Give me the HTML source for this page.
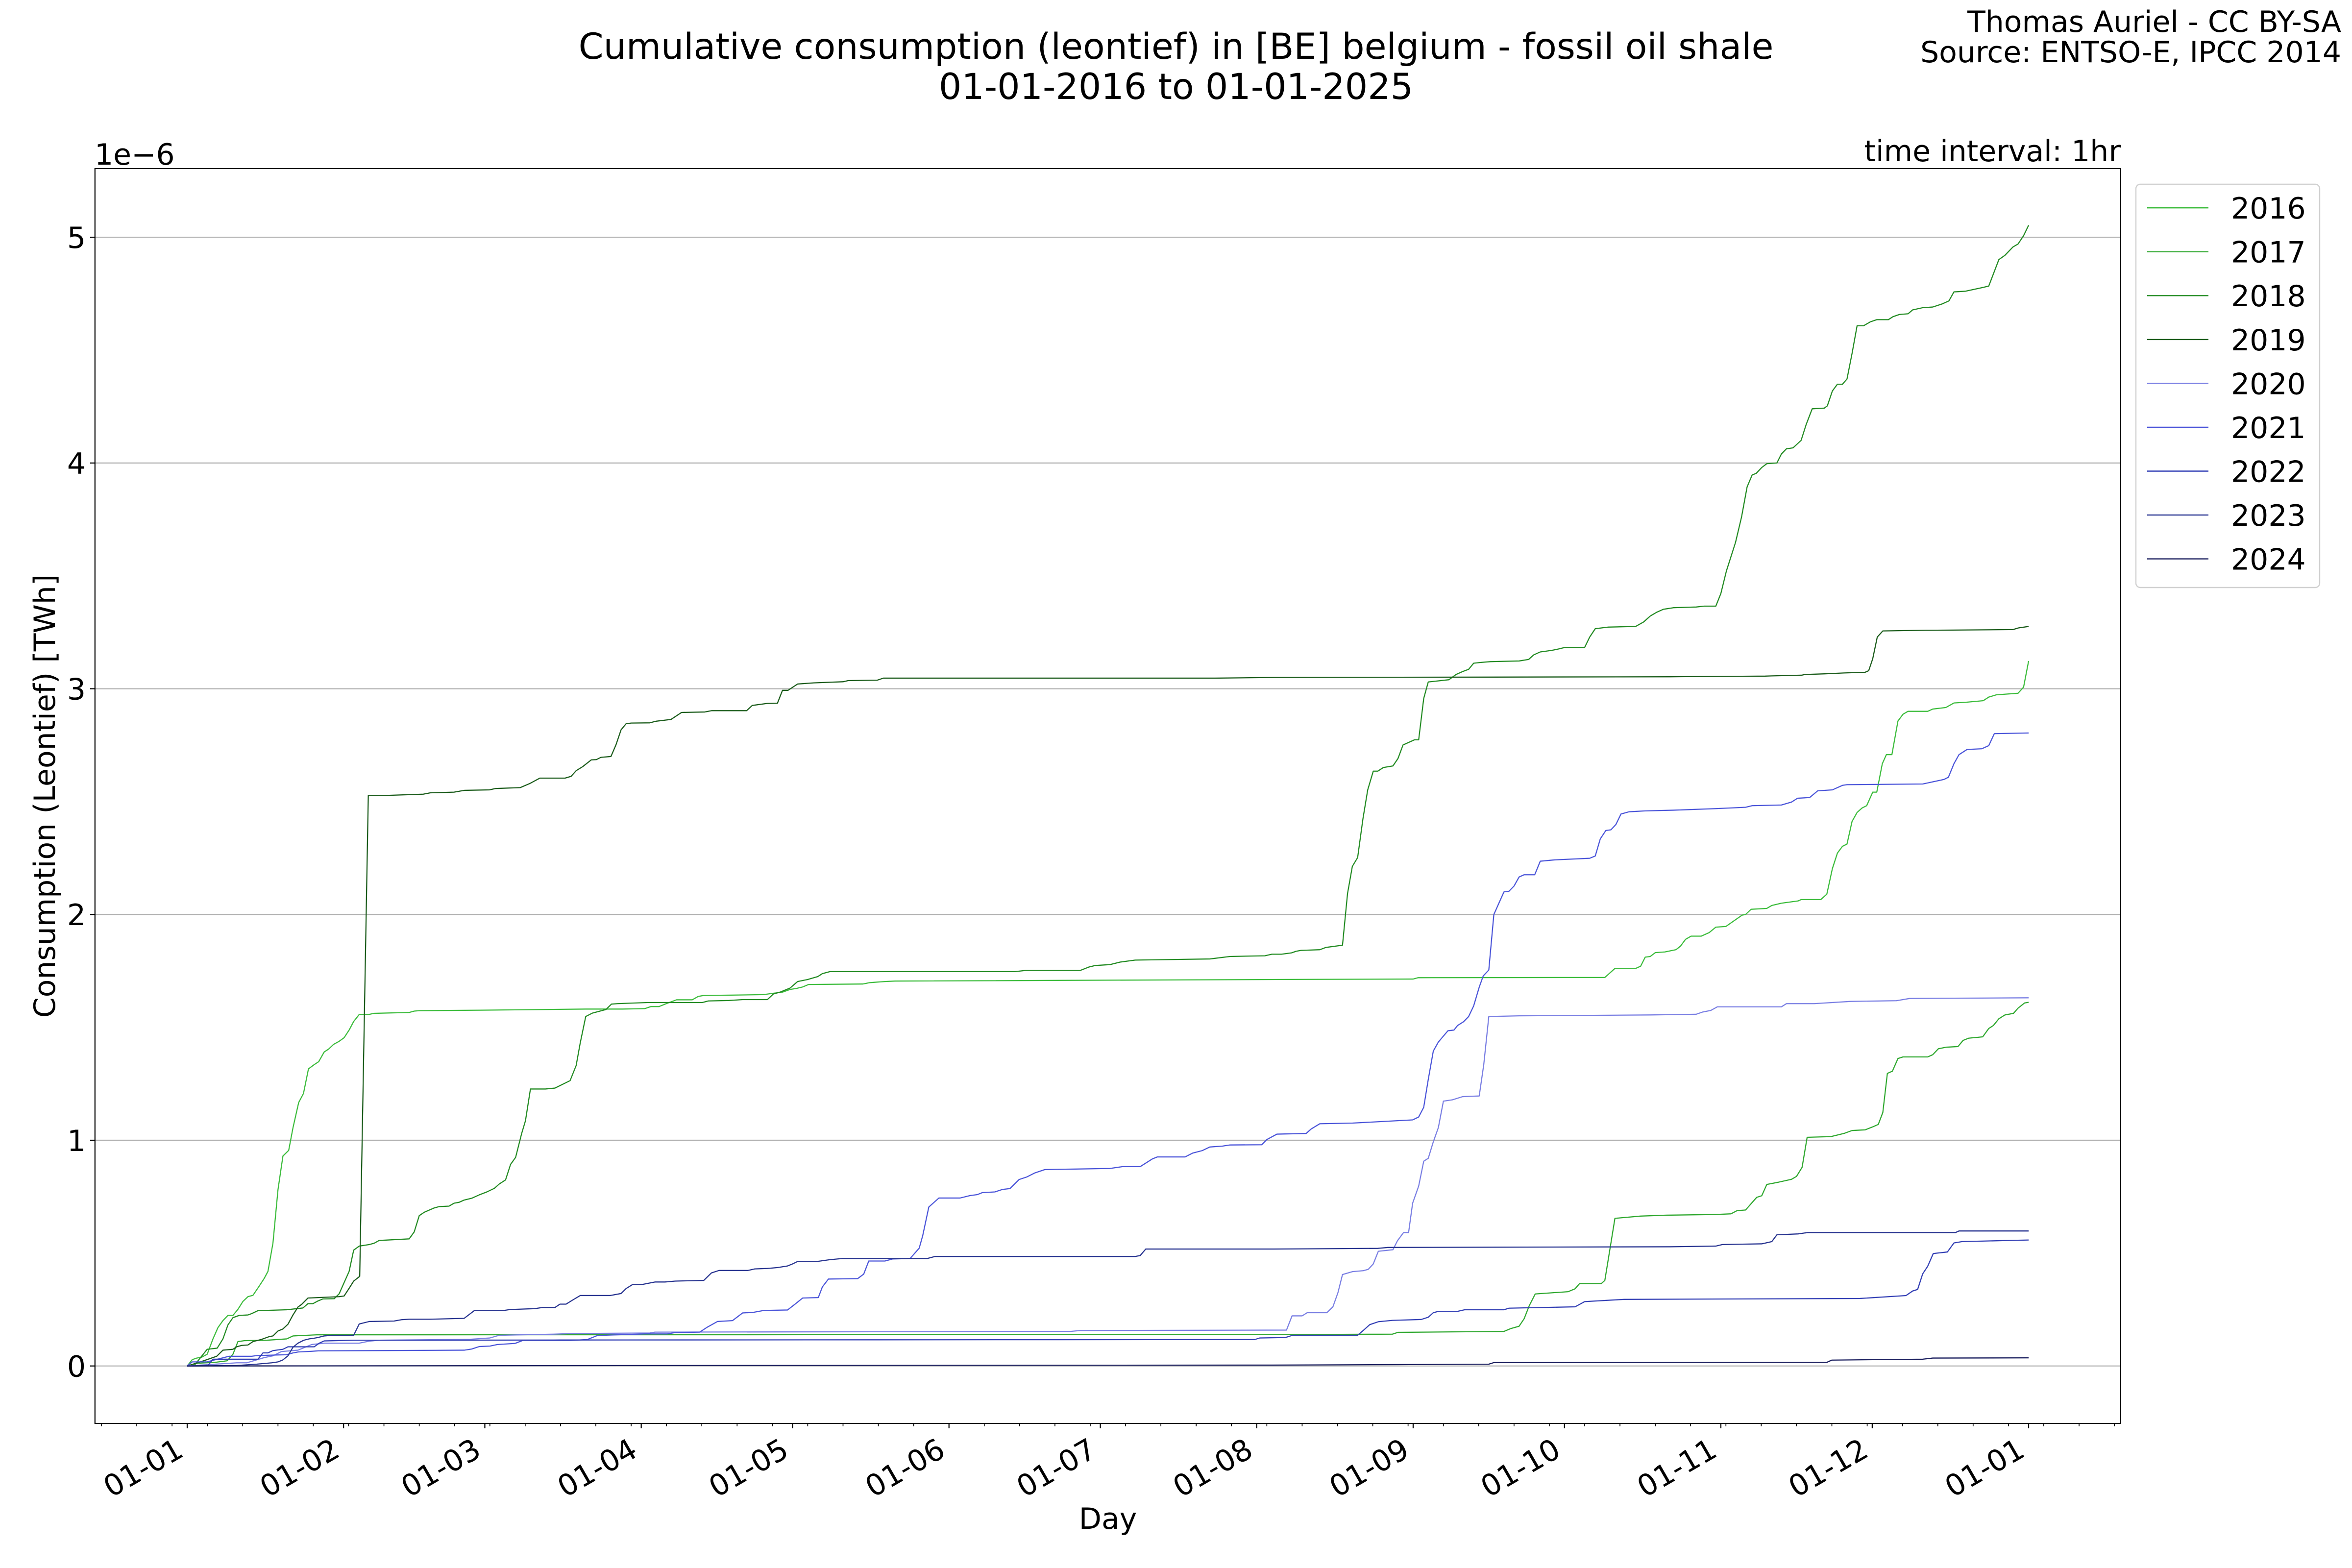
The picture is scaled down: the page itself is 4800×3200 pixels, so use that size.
<!DOCTYPE html>
<html><head><meta charset="utf-8">
<style>
html,body{margin:0;padding:0;background:#fff;}
body{width:4800px;height:3200px;overflow:hidden;}
svg{display:block;}
text{font-family:"DejaVu Sans","Liberation Sans",sans-serif;fill:#000;}
.s{fill:none;stroke-width:2.3;stroke-linejoin:round;stroke-linecap:butt;}
</style></head>
<body>
<svg width="4800" height="3200" viewBox="0 0 4800 3200" xmlns="http://www.w3.org/2000/svg">
<rect x="0" y="0" width="4800" height="3200" fill="#fff"/>

<!-- titles -->
<text x="2400" y="120" font-size="73" text-anchor="middle">Cumulative consumption (leontief) in [BE] belgium - fossil oil shale</text>
<text x="2400" y="202" font-size="73" text-anchor="middle">01-01-2016 to 01-01-2025</text>
<text x="4778" y="65" font-size="60" text-anchor="end">Thomas Auriel - CC BY-SA</text>
<text x="4778" y="127" font-size="60" text-anchor="end">Source: ENTSO-E, IPCC 2014</text>
<text x="4328" y="329" font-size="60" text-anchor="end">time interval: 1hr</text>
<text x="193" y="336" font-size="60">1e−6</text>

<!-- grid -->
<g stroke="#b0b0b0" stroke-width="2.2">
<line x1="194" x2="4328" y1="2787.7" y2="2787.7"/>
<line x1="194" x2="4328" y1="2327.0" y2="2327.0"/>
<line x1="194" x2="4328" y1="1866.3" y2="1866.3"/>
<line x1="194" x2="4328" y1="1405.6" y2="1405.6"/>
<line x1="194" x2="4328" y1="944.9" y2="944.9"/>
<line x1="194" x2="4328" y1="484.2" y2="484.2"/>
</g>

<!-- series -->
<g transform="translate(382 2787.7) scale(10.296 -460.7)">
<polyline class="s" vector-effect="non-scaling-stroke" stroke="#3cbc3c" points="0,0 1,0.028 1.89,0.035 2.88,0.039 3.97,0.052 5.11,0.12 6.1,0.17 7.09,0.201 8.08,0.224 9.07,0.224 10.06,0.251 11.05,0.286 12.05,0.307 13.04,0.313 14.28,0.354 15.27,0.388 16.01,0.419 17,0.544 18,0.781 18.98,0.93 20.12,0.955 20.97,1.055 22.1,1.167 23.05,1.207 24.04,1.316 25.18,1.335 26.07,1.348 27.16,1.391 28.05,1.404 29.04,1.425 30.04,1.437 31.1,1.454 32.1,1.488 33,1.526 34.1,1.557 36,1.557 37,1.562 44,1.566 45,1.572 46,1.574 58,1.576 79,1.581 86.3,1.581 90.7,1.583 91.9,1.592 93.5,1.592 95.2,1.607 97,1.622 100.1,1.622 101.3,1.637 102.3,1.641 114.2,1.645 116.5,1.652 118,1.656 119.5,1.668 120.7,1.672 122,1.679 123.2,1.69 133.9,1.692 135.3,1.698 138.3,1.703 140.3,1.705 215.4,1.712 243,1.714 244,1.72 281,1.721 283,1.761 287.1,1.761 288.1,1.771 289,1.811 290,1.814 291,1.831 292.9,1.834 295.1,1.844 296,1.86 297,1.89 298.1,1.904 300.1,1.904 301.7,1.92 303,1.944 305,1.947 308.2,1.997 308.9,2.0 310,2.023 313.1,2.027 314.1,2.04 316,2.05 319.3,2.06 319.9,2.066 323.8,2.066 325,2.09 326.1,2.203 327.1,2.272 328.1,2.302 329,2.312 330,2.412 331,2.452 332,2.472 332.9,2.482 334.1,2.542 334.9,2.542 336,2.668 336.8,2.708 337.9,2.708 339.1,2.857 340.1,2.887 341.1,2.9 345,2.9 346,2.91 348.6,2.917 350.2,2.937 352.5,2.94 356,2.947 357.1,2.963 358.6,2.973 362.9,2.98 364,3.007 365,3.123"/>
<polyline class="s" vector-effect="non-scaling-stroke" stroke="#2fa82f" points="0,0 1.89,0.012 3.87,0.014 5.85,0.017 7.93,0.023 9.07,0.052 10.06,0.108 11.3,0.112 15.76,0.114 19.73,0.12 20.97,0.133 22.7,0.135 25.7,0.138 215,0.139 238.9,0.141 240,0.149 261,0.153 262.4,0.166 264,0.176 265,0.209 266,0.266 267.2,0.319 273.7,0.329 275.1,0.342 276,0.365 280.3,0.365 281,0.379 283,0.654 288.1,0.664 293.3,0.668 303,0.671 306,0.674 307.2,0.688 308.9,0.691 311.1,0.747 312.1,0.754 313.1,0.804 315.4,0.814 318,0.827 319,0.84 320.1,0.88 321.1,1.013 325.8,1.016 328.4,1.03 330,1.043 332.6,1.046 334.2,1.06 335.2,1.07 336.1,1.123 337,1.296 338,1.306 339.1,1.362 340.1,1.369 345,1.369 346,1.379 347.1,1.405 348.6,1.412 351,1.415 352,1.442 353.1,1.452 355.9,1.458 357.1,1.495 358,1.508 359.1,1.538 360.3,1.555 362,1.562 362.9,1.585 364.2,1.608 365,1.611"/>
<polyline class="s" vector-effect="non-scaling-stroke" stroke="#238b23" points="0,0 1.39,0.002 3.97,0.074 5.95,0.079 7.09,0.12 8.08,0.182 9.07,0.214 10.31,0.224 12.05,0.226 12.79,0.232 14.03,0.245 19.73,0.249 21.71,0.254 22.95,0.257 23.94,0.276 24.93,0.276 25.92,0.288 26.91,0.297 29.14,0.298 30.13,0.32 31.1,0.369 32.1,0.419 33,0.513 34.1,0.531 36.1,0.538 37.07,0.544 38.06,0.556 44,0.563 45,0.594 46,0.666 47,0.681 48.96,0.7 49.95,0.706 51.9,0.708 52.9,0.721 53.9,0.725 54.9,0.735 56.4,0.743 57.9,0.758 59.4,0.771 60.9,0.787 61.85,0.806 63.1,0.824 64.1,0.893 65.1,0.924 66.3,1.03 67.05,1.086 68.04,1.227 71,1.227 72.9,1.231 75.9,1.264 77.1,1.331 77.9,1.43 79,1.548 80.3,1.563 83,1.579 84.1,1.603 85.3,1.605 91.2,1.61 102.1,1.61 103.3,1.617 107.4,1.619 110.1,1.623 115,1.623 116.2,1.648 117.5,1.656 119.5,1.674 121,1.703 123,1.712 125,1.725 125.9,1.738 127.4,1.747 164.1,1.747 166.1,1.752 177,1.752 178.7,1.767 180,1.774 182.9,1.778 184.9,1.789 187.9,1.798 202.7,1.803 206.7,1.814 213.6,1.817 215,1.824 216.9,1.824 218.9,1.83 219.8,1.837 220.8,1.841 224.5,1.844 225.7,1.854 229,1.864 230,2.093 230.95,2.213 232,2.252 233.06,2.425 234,2.552 235.1,2.635 236,2.635 237.1,2.651 239,2.658 240,2.691 241,2.751 243.3,2.774 244.1,2.774 245.1,2.957 246,3.03 250.1,3.04 251.5,3.063 252.8,3.076 254,3.086 255,3.113 256.2,3.116 258.3,3.12 264,3.123 265.9,3.13 266.9,3.15 268.2,3.163 269.2,3.166 270.5,3.17 271.8,3.176 273.1,3.183 277,3.183 278,3.229 279.1,3.266 281.6,3.273 287.1,3.276 288.7,3.296 290,3.322 291.3,3.339 292.6,3.352 294.6,3.359 299.1,3.362 300.7,3.366 303,3.366 304,3.422 305.1,3.522 306.9,3.648 308.1,3.761 309.2,3.894 310.2,3.947 311,3.954 312.1,3.98 313.1,3.997 315.1,4.0 316,4.04 317,4.063 318.3,4.067 319.9,4.1 320.9,4.17 322.1,4.24 324.5,4.243 325.1,4.253 326.1,4.319 327.1,4.349 328.1,4.349 329,4.372 330,4.485 331,4.608 332.3,4.608 333.6,4.625 334.9,4.635 337.2,4.635 338.1,4.648 339.4,4.658 341.1,4.661 342,4.678 344,4.688 346,4.691 347.9,4.705 349.2,4.718 350.2,4.758 352.5,4.761 356,4.778 357.1,4.784 359.1,4.901 360.3,4.92 361.9,4.957 362.9,4.97 364,5.007 365,5.053"/>
<polyline class="s" vector-effect="non-scaling-stroke" stroke="#1b5c1b" points="0,0 2.88,0.02 5.85,0.043 7.09,0.07 9.07,0.074 9.82,0.085 10.8,0.091 12.05,0.093 13.04,0.108 14.77,0.118 16.26,0.13 17,0.133 18,0.155 18.98,0.164 19.98,0.185 20.97,0.226 21.96,0.261 22.7,0.273 23.94,0.301 30.13,0.307 31.1,0.31 32.1,0.344 33,0.376 34.2,0.397 35.9,2.527 39,2.527 44.1,2.531 46.8,2.533 48.2,2.539 52.9,2.542 55,2.55 59.9,2.552 61.1,2.558 66,2.562 67.9,2.58 69.9,2.604 74.9,2.604 76.1,2.612 77.1,2.637 78.4,2.655 80.1,2.685 81.1,2.686 82,2.696 84,2.7 85,2.752 86,2.818 87,2.845 88,2.848 91.7,2.849 92.9,2.856 95.9,2.864 98,2.895 102.6,2.897 104,2.903 110.9,2.903 112,2.926 115,2.935 117,2.936 118,2.993 119.1,2.993 121,3.021 124.2,3.026 130,3.031 131,3.036 136.8,3.038 138,3.047 203.7,3.047 215.4,3.05 293.9,3.053 312.8,3.056 314.1,3.057 320,3.06 320.6,3.063 324.5,3.066 328.4,3.07 332.6,3.073 333.3,3.08 334.1,3.133 335,3.229 336.1,3.256 344.6,3.259 361.9,3.262 362.9,3.269 365,3.276"/>
<polyline class="s" vector-effect="non-scaling-stroke" stroke="#7a7fe3" points="0,0 9.82,0.014 11.8,0.014 13.78,0.027 15.27,0.037 17,0.045 18.7,0.064 21.96,0.07 24.68,0.095 27.16,0.101 34.1,0.101 36.1,0.11 38.06,0.114 55.9,0.118 60,0.124 61.85,0.136 72.65,0.141 76.9,0.144 91.7,0.146 92.7,0.15 175,0.153 177,0.157 217.9,0.159 219,0.222 221,0.222 222,0.236 225.9,0.236 227.1,0.262 228.1,0.325 229,0.405 231,0.418 233.1,0.422 234.1,0.428 235.1,0.452 236.1,0.508 239,0.515 239.9,0.555 241.1,0.591 242.1,0.591 242.9,0.721 244.1,0.797 245.1,0.907 246,0.92 247,0.993 248,1.056 249,1.173 250.8,1.179 252.8,1.193 256.1,1.196 257,1.335 258,1.548 264,1.551 290,1.555 299.1,1.558 300.4,1.568 302,1.575 303.3,1.591 316,1.591 317,1.605 322.5,1.605 329.7,1.615 338.8,1.618 341.4,1.628 365,1.631"/>
<polyline class="s" vector-effect="non-scaling-stroke" stroke="#4b55d9" points="0,0 1,0.018 3.9,0.018 8.3,0.043 12.8,0.043 13.8,0.046 19.7,0.05 21,0.058 22,0.062 24.7,0.065 26,0.067 54.9,0.07 56.4,0.075 57.9,0.086 60,0.088 61.5,0.095 65,0.1 66.5,0.113 75.9,0.113 79.3,0.117 81.3,0.135 90.7,0.142 95.2,0.142 96.7,0.148 101.6,0.15 103.1,0.172 105.1,0.197 108.1,0.201 110.1,0.235 112.1,0.237 114.3,0.246 119,0.248 120.5,0.274 122,0.301 125.1,0.303 125.9,0.35 127.1,0.385 132.9,0.387 134.1,0.407 135.1,0.465 138.3,0.465 139.8,0.474 143.3,0.476 145.1,0.522 145.8,0.578 147,0.704 149,0.744 153.2,0.744 155.2,0.755 156.6,0.759 157.6,0.768 160.1,0.771 161.6,0.782 163.1,0.786 164.9,0.826 166.4,0.837 168,0.855 170,0.87 182.9,0.875 185.4,0.883 188.9,0.883 191.3,0.917 192.3,0.926 197.8,0.926 199.3,0.943 201.2,0.954 202.7,0.97 205.2,0.974 206.7,0.979 213,0.98 214,1.003 216,1.027 221.8,1.03 222.8,1.05 224.5,1.073 231,1.076 242.9,1.09 244.1,1.103 245.1,1.146 246,1.269 247,1.395 248,1.435 249.9,1.485 251.1,1.488 251.8,1.508 253,1.525 254,1.548 255,1.595 256.1,1.678 256.9,1.728 258,1.754 259,2.0 260,2.05 261,2.1 262,2.103 263,2.126 264,2.166 265,2.176 267.1,2.176 268.2,2.236 271.1,2.242 278,2.249 279.1,2.259 280.1,2.335 281.2,2.372 282.2,2.375 283.2,2.399 284.2,2.445 285.8,2.455 289,2.459 294.6,2.462 303,2.469 308.9,2.475 310.2,2.482 316,2.485 318,2.498 319.2,2.515 321.6,2.518 323.2,2.548 326.1,2.552 328.1,2.572 329,2.575 344,2.578 348.2,2.598 349.1,2.608 350.2,2.668 351.2,2.708 352.8,2.731 355.7,2.734 357.1,2.748 358.2,2.801 365,2.804"/>
<polyline class="s" vector-effect="non-scaling-stroke" stroke="#3440b5" points="0,0 4.12,0.002 5.11,0.03 14.03,0.03 15.02,0.058 16.01,0.058 17,0.068 18.98,0.074 19.98,0.085 25.18,0.085 26.17,0.101 27.16,0.111 33,0.114 72.65,0.115 211.6,0.117 212.6,0.124 217.7,0.126 219.1,0.136 232,0.136 233.2,0.159 234.4,0.183 236.1,0.196 238.9,0.202 244.6,0.206 246,0.216 247,0.236 248,0.242 251.8,0.242 253.2,0.249 261,0.249 262,0.256 275.1,0.262 277,0.285 284.8,0.295 331.6,0.299 340.7,0.312 342,0.332 343,0.339 344,0.408 345,0.442 346.1,0.498 348.9,0.505 350.2,0.545 351.8,0.551 365,0.558"/>
<polyline class="s" vector-effect="non-scaling-stroke" stroke="#283490" points="0,0 9.82,0.002 13.78,0.008 16.75,0.014 18,0.018 18.98,0.027 19.98,0.045 20.97,0.083 21.96,0.101 23.1,0.114 24.2,0.12 25.18,0.123 25.92,0.126 27.16,0.133 28.65,0.136 33,0.136 34.1,0.186 36.1,0.197 41,0.199 42.5,0.205 44,0.207 48,0.207 54.9,0.211 56.9,0.245 62.8,0.246 64,0.25 68.9,0.254 70.4,0.259 72.9,0.259 73.9,0.274 75.1,0.274 76.4,0.292 77.9,0.312 83.8,0.312 86,0.321 87,0.343 88.3,0.361 90.2,0.361 92.7,0.372 94.7,0.372 96.7,0.376 102.4,0.379 103.9,0.412 105.4,0.423 111.1,0.423 112.5,0.43 115,0.432 117,0.436 119,0.443 120,0.452 121,0.463 124.9,0.463 127.4,0.471 129.9,0.476 146.7,0.476 148.2,0.485 187.9,0.485 188.9,0.489 190,0.518 215.4,0.518 236,0.521 238,0.525 293.9,0.528 303,0.531 304.3,0.538 312.1,0.541 314.1,0.551 315.1,0.581 319.3,0.585 321.2,0.591 350.5,0.591 351.2,0.598 365,0.598"/>
<polyline class="s" vector-effect="non-scaling-stroke" stroke="#1a1e5e" points="0,0 100,0.002 215,0.004 240,0.006 258,0.008 259,0.015 325,0.016 326,0.026 344,0.03 346,0.035 365,0.036"/>
</g>

<!-- spines -->
<rect x="193.8" y="344" width="4134" height="2561" fill="none" stroke="#000" stroke-width="2.2"/>

<!-- y ticks -->
<g stroke="#000" stroke-width="2.2">
<line x1="184" x2="194" y1="2787.7" y2="2787.7"/>
<line x1="184" x2="194" y1="2327.0" y2="2327.0"/>
<line x1="184" x2="194" y1="1866.3" y2="1866.3"/>
<line x1="184" x2="194" y1="1405.6" y2="1405.6"/>
<line x1="184" x2="194" y1="944.9" y2="944.9"/>
<line x1="184" x2="194" y1="484.2" y2="484.2"/>
</g>
<g font-size="60" text-anchor="end">
<text x="175" y="2809.6">0</text>
<text x="175" y="2348.9">1</text>
<text x="175" y="1888.2">2</text>
<text x="175" y="1427.5">3</text>
<text x="175" y="966.8">4</text>
<text x="175" y="506.1">5</text>
</g>

<!-- x ticks -->
<g transform="translate(382 0) scale(10.296 1)" stroke="#000">
<path vector-effect="non-scaling-stroke" stroke-width="2.2" d="M0,2905V2914.7 M31,2905V2914.7 M59,2905V2914.7 M90,2905V2914.7 M120,2905V2914.7 M151,2905V2914.7 M181,2905V2914.7 M212,2905V2914.7 M243,2905V2914.7 M273,2905V2914.7 M304,2905V2914.7 M334,2905V2914.7 M365,2905V2914.7"/>
<path vector-effect="non-scaling-stroke" stroke-width="1.7" d="M-17,2905V2910.6 M-10,2905V2910.6 M-3,2905V2910.6 M4,2905V2910.6 M11,2905V2910.6 M18,2905V2910.6 M25,2905V2910.6 M32,2905V2910.6 M39,2905V2910.6 M46,2905V2910.6 M53,2905V2910.6 M60,2905V2910.6 M67,2905V2910.6 M74,2905V2910.6 M81,2905V2910.6 M88,2905V2910.6 M95,2905V2910.6 M102,2905V2910.6 M109,2905V2910.6 M116,2905V2910.6 M123,2905V2910.6 M130,2905V2910.6 M137,2905V2910.6 M144,2905V2910.6 M158,2905V2910.6 M165,2905V2910.6 M172,2905V2910.6 M179,2905V2910.6 M186,2905V2910.6 M193,2905V2910.6 M200,2905V2910.6 M207,2905V2910.6 M214,2905V2910.6 M221,2905V2910.6 M228,2905V2910.6 M235,2905V2910.6 M242,2905V2910.6 M249,2905V2910.6 M256,2905V2910.6 M263,2905V2910.6 M270,2905V2910.6 M277,2905V2910.6 M284,2905V2910.6 M291,2905V2910.6 M298,2905V2910.6 M305,2905V2910.6 M312,2905V2910.6 M319,2905V2910.6 M326,2905V2910.6 M333,2905V2910.6 M340,2905V2910.6 M347,2905V2910.6 M354,2905V2910.6 M361,2905V2910.6 M368,2905V2910.6 M375,2905V2910.6 M382,2905V2910.6"/>
</g>
<g font-size="60" text-anchor="end">
<text transform="translate(378 2970) rotate(-30)">01-01</text>
<text transform="translate(697.2 2970) rotate(-30)">01-02</text>
<text transform="translate(985.5 2970) rotate(-30)">01-03</text>
<text transform="translate(1304.6 2970) rotate(-30)">01-04</text>
<text transform="translate(1613.5 2970) rotate(-30)">01-05</text>
<text transform="translate(1932.7 2970) rotate(-30)">01-06</text>
<text transform="translate(2241.6 2970) rotate(-30)">01-07</text>
<text transform="translate(2560.8 2970) rotate(-30)">01-08</text>
<text transform="translate(2879.9 2970) rotate(-30)">01-09</text>
<text transform="translate(3188.8 2970) rotate(-30)">01-10</text>
<text transform="translate(3508 2970) rotate(-30)">01-11</text>
<text transform="translate(3816.9 2970) rotate(-30)">01-12</text>
<text transform="translate(4136 2970) rotate(-30)">01-01</text>
</g>

<!-- axis labels -->
<text x="2261" y="3120" font-size="60" text-anchor="middle">Day</text>
<text transform="translate(112 1624.5) rotate(-90)" font-size="60" text-anchor="middle">Consumption (Leontief) [TWh]</text>

<!-- legend -->
<rect x="4359" y="376" width="375" height="823" rx="9" ry="9" fill="#fff" stroke="#d0d0d0" stroke-width="2.4"/>
<g stroke-width="2.4">
<line x1="4382" x2="4507" y1="424.2" y2="424.2" stroke="#3cbc3c"/>
<line x1="4382" x2="4507" y1="513.8" y2="513.8" stroke="#2fa82f"/>
<line x1="4382" x2="4507" y1="603.3" y2="603.3" stroke="#238b23"/>
<line x1="4382" x2="4507" y1="692.9" y2="692.9" stroke="#1b5c1b"/>
<line x1="4382" x2="4507" y1="782.4" y2="782.4" stroke="#7a7fe3"/>
<line x1="4382" x2="4507" y1="872.0" y2="872.0" stroke="#4b55d9"/>
<line x1="4382" x2="4507" y1="961.5" y2="961.5" stroke="#3440b5"/>
<line x1="4382" x2="4507" y1="1051.1" y2="1051.1" stroke="#283490"/>
<line x1="4382" x2="4507" y1="1140.6" y2="1140.6" stroke="#1a1e5e"/>
</g>
<g font-size="60">
<text x="4553" y="446.1">2016</text>
<text x="4553" y="535.7">2017</text>
<text x="4553" y="625.2">2018</text>
<text x="4553" y="714.8">2019</text>
<text x="4553" y="804.3">2020</text>
<text x="4553" y="893.9">2021</text>
<text x="4553" y="983.4">2022</text>
<text x="4553" y="1073.0">2023</text>
<text x="4553" y="1162.5">2024</text>
</g>
</svg>
</body></html>
